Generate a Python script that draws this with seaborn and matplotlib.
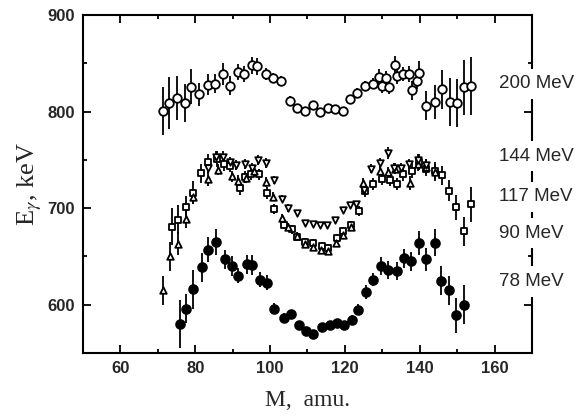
import matplotlib
matplotlib.use("Agg")
import matplotlib.pyplot as plt
from matplotlib.ticker import MultipleLocator
import seaborn as sns

# 200 MeV, open circles
x200 = [71.4, 73.1, 75.1, 77.2, 78.8, 80.9, 83.3, 85.4, 87.3, 89.4, 91.3, 93.1, 95.1, 96.6, 98.9,
        100.9, 102.9, 105.3, 107.1, 109.3, 111.5, 113.3, 115.4, 117.3, 119.4, 121.3, 123.1, 125.3,
        127.4, 129.2, 129.8, 131.1, 131.7, 133.3, 133.8, 135.5, 137.1, 137.8, 139.3, 139.7, 141.8,
        144.0, 146.0, 148.0, 150.0, 151.7, 153.8]
y200 = [801, 809, 814, 809, 826, 818, 828, 829, 839, 827, 841, 839, 848, 847, 839, 835, 832, 811,
        804, 801, 807, 800, 804, 803, 801, 813, 819, 827, 829, 836, 827, 835, 825, 848, 837, 839,
        839, 822, 832, 840, 806, 810, 823, 810, 809, 825, 827]
e200 = [25, 27, 23, 20, 18, 12, 11, 10, 11, 10, 8, 8, 9, 9, 6, 5, 5, 5, 4, 4, 4, 4, 4, 4, 4, 4, 5,
        5, 6, 8, 8, 7, 7, 10, 8, 7, 8, 10, 9, 12, 15, 18, 20, 25, 25, 28, 30]

# open squares
xsq = [73.8, 75.5, 77.5, 79.3, 81.5, 83.3, 85.8, 87.7, 89.3, 92.0, 93.3, 95.0, 97.1, 99.1, 101.1,
       103.6, 105.8, 107.1, 109.3, 111.5, 113.8, 115.6, 117.8, 119.6, 121.5, 123.7, 125.5, 127.5,
       129.8, 132.0, 134.0, 135.5, 137.8, 139.8, 141.8, 144.0, 146.0, 147.7, 149.6, 151.7, 153.8]
ysq = [681, 688, 701, 716, 736, 748, 751, 746, 744, 721, 732, 735, 735, 716, 699, 683, 678, 670,
       665, 664, 661, 659, 669, 676, 683, 697, 718, 725, 730, 729, 725, 735, 739, 748, 741, 739,
       734, 718, 701, 676, 704]
esq = [19, 15, 12, 12, 10, 8, 8, 7, 7, 7, 6, 6, 6, 6, 5, 5, 5, 4, 4, 4, 4, 4, 4, 4, 4, 5, 6, 6, 6,
       6, 6, 7, 8, 8, 8, 9, 10, 11, 13, 15, 18]

# open up-triangles
xup = [71.4, 73.3, 75.5, 77.5, 79.5, 83.4, 86.2, 89.8, 91.5, 93.6, 95.6, 98.8, 100.7, 103.1, 104.9,
       107.2, 109.4, 111.6, 113.6, 115.6, 117.6, 119.6, 121.6, 124.9, 129.3, 131.5, 133.5, 137.3,
       139.6, 141.8, 144.0]
yup = [615, 650, 663, 689, 712, 730, 740, 733, 728, 731, 738, 727, 712, 690, 681, 671, 663, 660,
       657, 656, 664, 672, 681, 726, 739, 737, 741, 726, 746, 743, 737]
eup = [15, 15, 12, 10, 8, 7, 6, 6, 6, 5, 5, 5, 5, 4, 4, 4, 4, 4, 4, 4, 4, 4, 4, 5, 6, 6, 6, 7, 7, 8, 9]

# open down-triangles
xdn = [83.5, 85.5, 87.5, 89.2, 90.9, 93.3, 95.1, 96.9, 98.9, 101.1, 103.1, 104.9, 107.1, 109.3,
       111.5, 113.3, 115.3, 117.3, 119.6, 121.3, 123.0, 125.0, 127.1, 129.3, 131.4, 133.2, 135.1,
       137.2, 139.5, 141.6]
ydn = [742, 753, 753, 748, 745, 746, 742, 750, 747, 729, 710, 700, 695, 685, 684, 683, 683, 688,
       698, 703, 704, 719, 741, 747, 757, 742, 742, 746, 750, 745]
edn = [6, 6, 6, 5, 5, 5, 5, 5, 5, 4, 4, 4, 3, 3, 3, 3, 3, 3, 3, 3, 3, 4, 5, 5, 6, 5, 5, 5, 6, 6]

# 78 MeV, filled circles
x78 = [75.8, 77.6, 79.5, 81.8, 83.5, 85.5, 88.0, 89.8, 91.5, 93.8, 95.3, 97.3, 99.3, 101.1, 103.6,
       105.6, 107.6, 109.6, 111.5, 113.8, 116.0, 118.0, 119.8, 122.0, 123.6, 125.6, 127.5, 129.6,
       131.6, 133.8, 135.7, 137.6, 139.7, 141.8, 144.0, 145.8, 147.8, 149.8, 151.7]
y78 = [580, 596, 616, 639, 657, 665, 647, 640, 630, 642, 641, 626, 623, 596, 586, 590, 579, 573,
       570, 577, 579, 581, 579, 584, 595, 613, 626, 640, 636, 635, 648, 645, 664, 647, 664, 625,
       615, 589, 600]
e78 = [25, 15, 20, 15, 13, 13, 10, 10, 8, 10, 10, 8, 8, 6, 5, 5, 4, 4, 4, 4, 4, 4, 4, 5, 6, 7, 7,
       9, 9, 9, 10, 10, 12, 12, 14, 15, 15, 18, 20]

energy_labels = ["200 MeV", "144 MeV", "117 MeV", "90 MeV", "78 MeV"]
label_y = [829, 754, 712, 674, 624]

sns.set_style("ticks")
plt.rcParams["font.family"] = ["Liberation Sans", "DejaVu Sans"]
plt.rcParams["mathtext.fontset"] = "stix"

fig = plt.figure(figsize=(5.78, 4.19), dpi=100)
ax = fig.add_axes([0.1436, 0.1575, 0.7768, 0.8065])

series = [
    (x200, y200, e200, "o", 38, "white"),
    (xsq, ysq, esq, "s", 22, "white"),
    (xup, yup, eup, "^", 22, "white"),
    (xdn, ydn, edn, "v", 22, "white"),
    (x78, y78, e78, "o", 40, "black"),
]
for xs, ys, es, mk, sz, fc in series:
    ax.errorbar(xs, ys, yerr=es, fmt="none", ecolor="black", elinewidth=1.3, capsize=0, zorder=2)
    sns.scatterplot(x=xs, y=ys, marker=mk, s=sz, color=fc, edgecolor="black",
                    linewidth=1.3, ax=ax, zorder=3, legend=False)

ax.set_xlim(50, 170)
ax.set_ylim(550, 900)
ax.xaxis.set_major_locator(MultipleLocator(20))
ax.xaxis.set_minor_locator(MultipleLocator(10))
ax.yaxis.set_major_locator(MultipleLocator(100))
ax.yaxis.set_minor_locator(MultipleLocator(50))
ax.tick_params(which="both", direction="in", top=True, right=True, color="black", width=1.3)
ax.tick_params(which="major", length=6, labelsize=12, pad=6)
ax.tick_params(which="minor", length=3)
for lab in ax.get_xticklabels() + ax.get_yticklabels():
    lab.set_fontweight("bold")
for sp in ax.spines.values():
    sp.set_linewidth(1.5)
    sp.set_color("black")

ax.set_xlabel("M,  amu.", family="Liberation Serif", fontsize=17, labelpad=10)
ax.set_ylabel(r"E$_\gamma$, keV", family="Liberation Serif", fontsize=19, labelpad=2)

for txt, yy in zip(energy_labels, label_y):
    ax.text(161.3, yy, txt, fontsize=13.5, ha="left", va="center", zorder=5, clip_on=False,
            bbox=dict(boxstyle="square,pad=0.35", facecolor="white", edgecolor="none"))

fig.savefig("out.png", dpi=100)
